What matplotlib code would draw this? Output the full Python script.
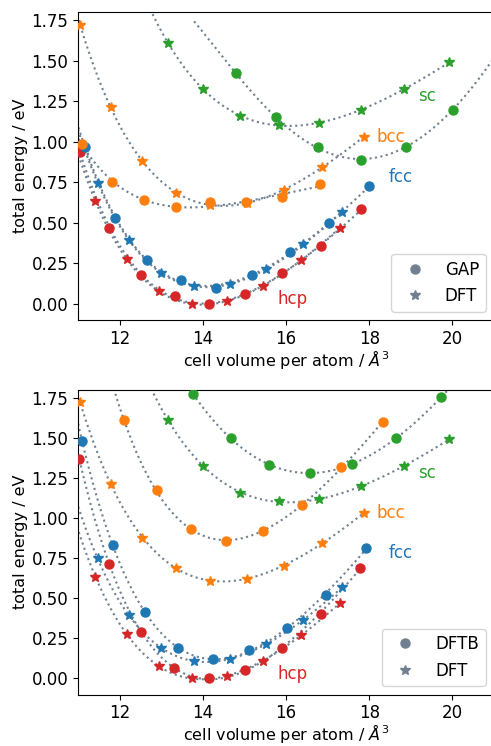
import numpy as np
import matplotlib
matplotlib.use('Agg')
import matplotlib.pyplot as plt
from matplotlib.lines import Line2D

# DFT reference (both panels)
dft_hcp_v = [11.42, 12.17, 12.94, 13.75, 14.59, 15.45, 16.36, 17.30]
dft_hcp_e = [0.633, 0.276, 0.076, 0.000, 0.017, 0.110, 0.270, 0.470]
dft_fcc_v = [11.47, 12.22, 12.99, 13.80, 14.65, 15.51, 16.42, 17.35]
dft_fcc_e = [0.748, 0.394, 0.192, 0.109, 0.120, 0.212, 0.367, 0.567]
dft_bcc_v = [11.05, 11.79, 12.55, 13.36, 14.17, 15.06, 15.94, 16.87, 17.87]
dft_bcc_e = [1.720, 1.212, 0.878, 0.685, 0.610, 0.622, 0.703, 0.843, 1.030]
dft_sc_v = [13.16, 14.01, 14.90, 15.83, 16.79, 17.80, 18.84, 19.92]
dft_sc_e = [1.611, 1.323, 1.158, 1.103, 1.117, 1.196, 1.323, 1.490]

# GAP (top panel)
gap_hcp_v = [11.05, 11.75, 12.52, 13.32, 14.16, 15.01, 15.91, 16.84, 17.80]
gap_hcp_e = [0.936, 0.468, 0.179, 0.048, 0.000, 0.058, 0.190, 0.354, 0.583]
gap_fcc_v = [11.17, 11.90, 12.67, 13.48, 14.31, 15.18, 16.09, 17.03, 18.00]
gap_fcc_e = [0.967, 0.528, 0.268, 0.147, 0.099, 0.179, 0.317, 0.497, 0.724]
gap_bcc_v = [11.10, 11.82, 12.58, 13.36, 14.17, 15.03, 15.90, 16.82]
gap_bcc_e = [0.983, 0.753, 0.639, 0.594, 0.625, 0.625, 0.656, 0.736]
gap_sc_v = [14.79, 15.75, 16.76, 17.80, 18.88, 20.01]
gap_sc_e = [1.424, 1.150, 0.965, 0.890, 0.969, 1.198]

# DFTB (bottom panel)
dftb_hcp_v = [11.03, 11.75, 12.51, 13.31, 14.16, 15.01, 15.91, 16.84, 17.78]
dftb_hcp_e = [1.369, 0.714, 0.290, 0.063, 0.000, 0.053, 0.192, 0.401, 0.689]
dftb_fcc_v = [11.10, 11.83, 12.61, 13.41, 14.25, 15.11, 16.02, 16.96, 17.92]
dftb_fcc_e = [1.479, 0.831, 0.413, 0.188, 0.121, 0.176, 0.313, 0.520, 0.810]
dftb_bcc_v = [12.10, 12.89, 13.71, 14.56, 15.44, 16.38, 17.33, 18.33]
dftb_bcc_e = [1.610, 1.171, 0.929, 0.858, 0.917, 1.082, 1.316, 1.598]
dftb_sc_v = [13.77, 14.67, 15.60, 16.58, 17.59, 18.64, 19.73]
dftb_sc_e = [1.770, 1.496, 1.332, 1.279, 1.334, 1.498, 1.751]

labels = ['hcp', 'fcc', 'bcc', 'sc']
colors = ['tab:red', 'tab:blue', 'tab:orange', 'tab:green']
label_pos = [(16.16, 0.03), (18.76, 0.78), (18.52, 1.03), (19.4, 1.28)]

lc = 'slategray'


def eos_fit(v, e, lo, hi):
    # Birch-Murnaghan style: cubic polynomial in V^(-2/3)
    v = np.asarray(v)
    p = np.polyfit(v ** (-2. / 3), e, 3)
    vv = np.linspace(lo, hi, 300)
    return vv, np.polyval(p, vv ** (-2. / 3))


def panel(ax, model, dft, model_name, ext):
    for i, ((mv, me), (dv, de)) in enumerate(zip(model, dft)):
        for (v, e, x) in [(mv, me, ext[i]), (dv, de, False)]:
            hi = 21.5 if x else max(v)
            vv, ee = eos_fit(v, e, min(v) - 1.0, hi)
            ax.plot(vv, ee, ':', color=lc, lw=1.5, zorder=1)
    for i, ((mv, me), (dv, de)) in enumerate(zip(model, dft)):
        ax.plot(mv, me, 'o', color=colors[i], ms=6.5, ls='none', zorder=3)
        ax.plot(dv, de, '*', color=colors[i], ms=7, ls='none', zorder=3)
        ax.text(label_pos[i][0], label_pos[i][1], labels[i], color=colors[i],
                fontsize=12, ha='center', va='center')
    ax.set_xlim(11, 21)
    ax.set_ylim(-0.1, 1.8)
    ax.set_xticks([12, 14, 16, 18, 20])
    ax.set_yticks(np.arange(0, 1.76, 0.25))
    ax.tick_params(labelsize=12)
    ax.set_xlabel(r'cell volume per atom / $\AA^3$', fontsize=11.5, labelpad=0)
    ax.set_ylabel('total energy / eV', fontsize=11.5, labelpad=2)
    handles = [Line2D([], [], marker='o', ls='none', color=lc, ms=6.5),
               Line2D([], [], marker='*', ls='none', color=lc, ms=7)]
    ax.legend(handles, [model_name, 'DFT'], loc='lower right', fontsize=12)


dft = [(dft_hcp_v, dft_hcp_e), (dft_fcc_v, dft_fcc_e),
       (dft_bcc_v, dft_bcc_e), (dft_sc_v, dft_sc_e)]
gap = [(gap_hcp_v, gap_hcp_e), (gap_fcc_v, gap_fcc_e),
       (gap_bcc_v, gap_bcc_e), (gap_sc_v, gap_sc_e)]
dftb = [(dftb_hcp_v, dftb_hcp_e), (dftb_fcc_v, dftb_fcc_e),
        (dftb_bcc_v, dftb_bcc_e), (dftb_sc_v, dftb_sc_e)]

fig = plt.figure(figsize=(4.91, 7.46), dpi=100)
ax1 = fig.add_axes([78 / 491, (746 - 320) / 746, 416 / 491, 308 / 746])
ax2 = fig.add_axes([78 / 491, (746 - 694.5) / 746, 416 / 491, 305 / 746])

panel(ax1, gap, dft, 'GAP', [False, False, False, True])
panel(ax2, dftb, dft, 'DFTB', [False, False, False, True])

fig.savefig('out.png', dpi=100)
